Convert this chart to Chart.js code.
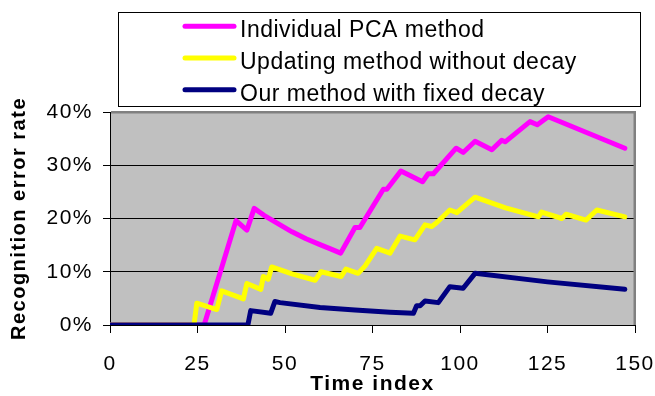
<!DOCTYPE html>
<html>
<head>
<meta charset="utf-8">
<script src="https://cdn.jsdelivr.net/npm/chart.js@4/dist/chart.umd.min.js"></script>
<style>
  html, body { margin: 0; padding: 0; background: #ffffff; }
  canvas { display: block; }
</style>
</head>
<body>
<canvas id="chart" width="655" height="396"></canvas>
<script>
// Recognition error rate over time for three face-model update strategies.
const seriesNames = ['Individual PCA method', 'Updating method without decay', 'Our method with fixed decay'];

const timePca = [0, 26.9, 36.0, 39.1, 41.2, 44, 48.6, 52, 56, 60, 63, 65.9, 70.0, 71.4, 78.1, 79.1, 83.1, 89.3, 90.9, 92.4, 98.9, 100.9, 104.3, 109.1, 111.9, 112.9, 120.0, 122.1, 125.2, 147.1];
const errPca  = [0, 0, 19.6, 17.8, 21.9, 20.6, 18.8, 17.5, 16.2, 15.1, 14.3, 13.5, 18.3, 18.3, 25.5, 25.5, 28.9, 26.9, 28.4, 28.4, 33.2, 32.4, 34.5, 32.9, 34.7, 34.4, 38.2, 37.6, 39.1, 33.2];

const timeNoDecay = [0, 24.0, 24.8, 30.5, 31.9, 38.1, 39.1, 43.1, 43.8, 45.2, 46.2, 52, 58.6, 60.3, 66.0, 67.4, 70.9, 72.9, 76.2, 80.0, 82.9, 87.1, 90.0, 91.9, 93.3, 97.1, 99.1, 100.5, 104.3, 113, 122.4, 123.3, 129.1, 130.3, 136.0, 139.1, 147.1];
const errNoDecay  = [0, 0, 4.1, 2.9, 6.4, 4.9, 7.8, 6.7, 9.1, 8.6, 10.9, 9.6, 8.4, 10.0, 9.1, 10.5, 9.7, 11.1, 14.4, 13.5, 16.7, 16.0, 18.8, 18.5, 19.2, 21.6, 21.1, 21.9, 24.0, 22.0, 20.3, 21.2, 20.0, 20.8, 19.7, 21.6, 20.3];

const timeFixed = [0, 39.4, 40.2, 45.9, 47.1, 48.6, 60, 70, 80, 86.7, 87.6, 88.6, 90.0, 93.8, 97.1, 100.9, 104.3, 125, 147.1];
const errFixed  = [0, 0, 2.7, 2.2, 4.4, 4.2, 3.3, 2.8, 2.4, 2.2, 3.6, 3.6, 4.5, 4.2, 7.2, 6.9, 9.7, 8.1, 6.7];

const xTicks = [0, 25, 50, 75, 100, 125, 150];
const yTicks = [0, 10, 20, 30, 40];

const FONT = "'Liberation Sans', Arial, sans-serif";

function toPoints(xs, ys) {
  return xs.map((x, i) => ({ x: x, y: ys[i] }));
}

// Gray plot area with the darker frame along its top and right edges.
const plotArea = {
  id: 'plotArea',
  beforeDraw(chart) {
    const { ctx, chartArea: a } = chart;
    ctx.letterSpacing = '1.5px';
    ctx.save();
    ctx.fillStyle = '#C0C0C0';
    ctx.fillRect(a.left, a.top, a.right - a.left, a.bottom - a.top);
    ctx.restore();
  },
  beforeDatasetsDraw(chart) {
    const { ctx, chartArea: a } = chart;
    ctx.save();
    ctx.fillStyle = '#808080';
    ctx.fillRect(a.left + 1, a.top - 1, a.right - a.left, 2.5);
    ctx.fillRect(a.right - 1.5, a.top - 1, 2.5, a.bottom - a.top + 1);
    ctx.restore();
  }
};

// Boxed legend above the plot, one series per row.
const boxLegend = {
  id: 'boxLegend',
  afterDraw(chart) {
    const ctx = chart.ctx;
    ctx.save();
    ctx.letterSpacing = '0.5px';
    ctx.fillStyle = '#ffffff';
    ctx.fillRect(118, 12, 523, 94.5);
    ctx.strokeStyle = '#000000';
    ctx.lineWidth = 1;
    ctx.strokeRect(118.5, 12.5, 522, 94);
    chart.data.datasets.forEach((ds, i) => {
      const y = 26.3 + i * 31.7;
      ctx.strokeStyle = ds.borderColor;
      ctx.lineWidth = 5;
      ctx.lineCap = 'round';
      ctx.beginPath();
      ctx.moveTo(185, y);
      ctx.lineTo(234, y);
      ctx.stroke();
      ctx.fillStyle = '#000000';
      ctx.font = '23px ' + FONT;
      ctx.textAlign = 'left';
      ctx.textBaseline = 'alphabetic';
      ctx.fillText(ds.label, 240, y + 10.8);
    });
    ctx.restore();
  }
};

new Chart(document.getElementById('chart'), {
  type: 'line',
  data: {
    datasets: [
      { label: seriesNames[0], data: toPoints(timePca, errPca), borderColor: '#FF00FF', order: 2 },
      { label: seriesNames[1], data: toPoints(timeNoDecay, errNoDecay), borderColor: '#FFFF00', order: 1 },
      { label: seriesNames[2], data: toPoints(timeFixed, errFixed), borderColor: '#000080', order: 0 }
    ]
  },
  options: {
    responsive: false,
    animation: false,
    devicePixelRatio: 1,
    elements: {
      line: { borderWidth: 5, tension: 0, fill: false, borderJoinStyle: 'round', borderCapStyle: 'round' },
      point: { radius: 0, hoverRadius: 0 }
    },
    layout: { padding: { top: 112, right: 20, left: 0, bottom: 0 } },
    plugins: { legend: { display: false }, tooltip: { enabled: false } },
    scales: {
      x: {
        type: 'linear',
        min: xTicks[0],
        max: xTicks[xTicks.length - 1],
        afterBuildTicks(scale) { scale.ticks = xTicks.map(v => ({ value: v })); },
        ticks: { autoSkip: false, maxRotation: 0, color: '#000', padding: 19, font: { family: FONT, size: 21 } },
        grid: { drawOnChartArea: false, drawTicks: true, tickLength: 8, color: '#000', lineWidth: 1 },
        border: { color: '#000', width: 1 },
        title: { display: true, text: 'Time index', color: '#000', padding: { top: 0, bottom: 1 }, font: { family: FONT, size: 21, weight: 'bold', lineHeight: 1 } },
        afterFit(scale) { scale.height = 71; scale.paddingLeft = 0; scale.paddingRight = 0; }
      },
      y: {
        min: yTicks[0],
        max: yTicks[yTicks.length - 1],
        afterBuildTicks(scale) { scale.ticks = yTicks.map(v => ({ value: v })); },
        ticks: { color: '#000', padding: 10, font: { family: FONT, size: 21 }, callback: v => v + '%' },
        grid: { color: '#000', lineWidth: 1, tickLength: 7, drawTicks: true },
        border: { color: '#000', width: 1 },
        title: { display: true, text: 'Recognition error rate', color: '#000', padding: { top: 9, bottom: 0 }, font: { family: FONT, size: 20, weight: 'bold', lineHeight: 1 } },
        afterFit(scale) { scale.width = 110; }
      }
    }
  },
  plugins: [plotArea, boxLegend]
});
</script>
</body>
</html>
